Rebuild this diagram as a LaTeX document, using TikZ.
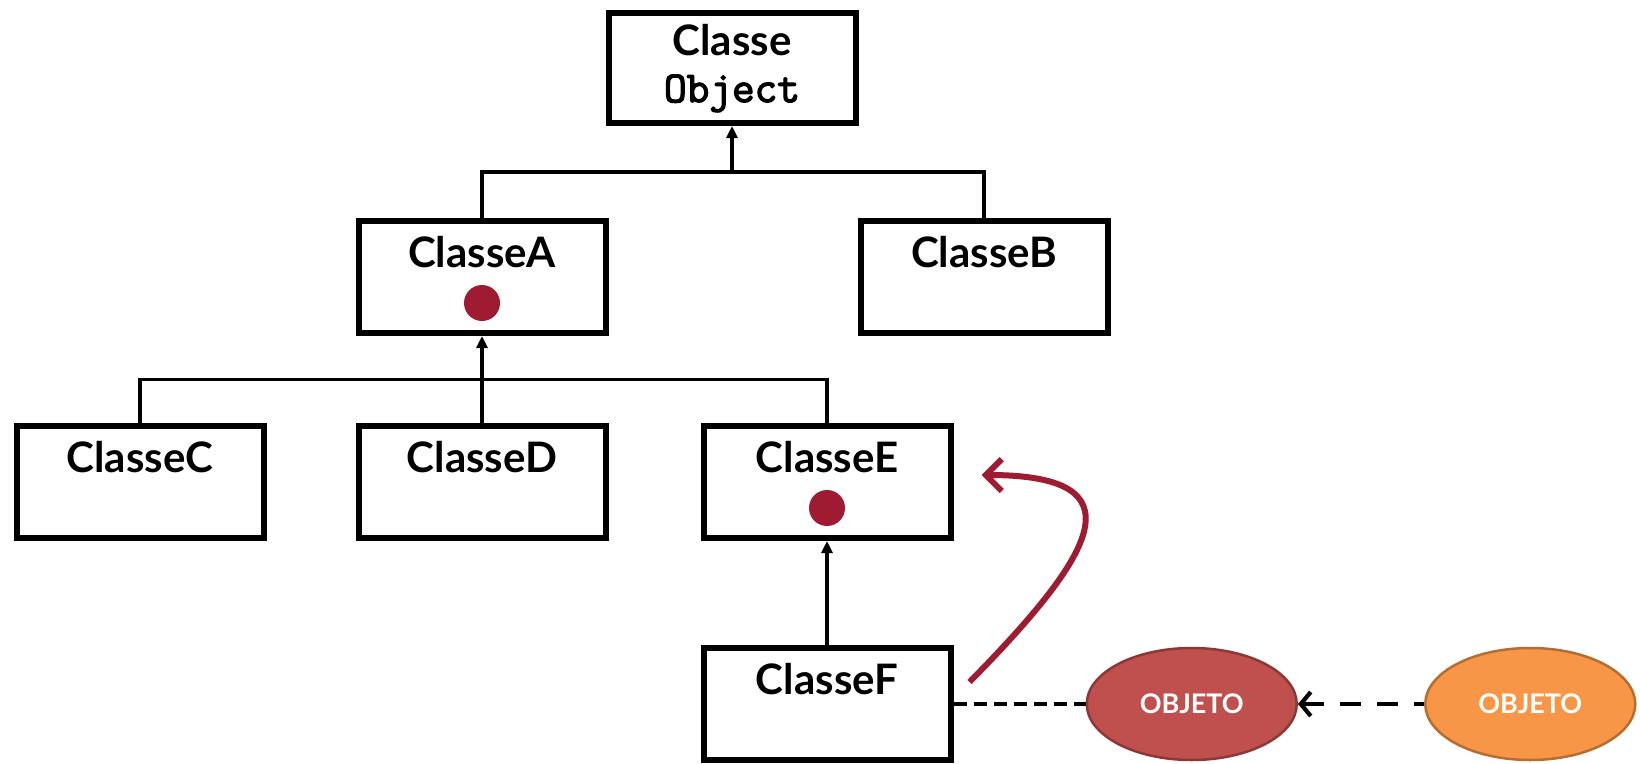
\documentclass[tikz,border=0pt]{standalone}
\usepackage{fontspec}
\setmainfont{Lato}
\setmonofont{Latin Modern Mono}[AutoFakeBold=3]
\usepackage{tikz}
\usetikzlibrary{arrows.meta,positioning,calc,shapes.geometric}
\definecolor{bordeaux}{HTML}{9E1B32}
\definecolor{objred}{HTML}{C0504D}
\definecolor{objredline}{HTML}{8C3836}
\definecolor{objorange}{HTML}{F79646}
\definecolor{objorangeline}{HTML}{B66D31}

\begin{document}
\begin{tikzpicture}[
  node distance=90pt and 90pt,
  classbox/.style={draw,line width=6pt,minimum width=247pt,
              inner xsep=0pt,inner ysep=0pt,text height=46pt,text depth=66pt,
              font=\fontsize{42}{44}\selectfont\bfseries},
  topbox/.style={draw,line width=6pt,minimum width=247pt,minimum height=110pt,
              align=center,font=\fontsize{42}{47}\selectfont\bfseries},
  dot/.style={circle,fill=bordeaux,minimum size=36pt,inner sep=0pt},
  objeto/.style={ellipse,line width=2.5pt,minimum width=210pt,minimum height=112pt,
              text=white,font=\fontsize{27}{29}\selectfont\bfseries},
  link/.style={line width=3.4pt},
  linkarr/.style={link,-{Triangle[length=12pt,width=11pt]}},
  dashlink/.style={line width=4.2pt,dash pattern=on 13pt off 7pt},
  backarr/.style={line width=4.2pt,dash pattern=on 21pt off 16pt,
              {Straight Barb[length=10pt,width=24pt]}-},
  curvarr/.style={bordeaux,line width=6pt,-{Straight Barb[length=16pt,width=32pt]}}
]
  \useasboundingbox (0,0) rectangle (1640pt,-763pt);

  \node[topbox](object) at (732pt,-68pt){Classe\\{\fontsize{44}{47}\selectfont\ttfamily\bfseries Object}};
  \node[classbox,below=92pt of object,xshift=-250pt](ca){ClasseA};
  \node[classbox,below=92pt of object,xshift=252pt](cb){ClasseB};
  \node[classbox,below=87pt of ca](cd){ClasseD};
  \node[classbox,left=89pt of cd](cc){ClasseC};
  \node[classbox,right=92pt of cd](ce){ClasseE};
  \node[classbox,below=104pt of ce](cf){ClasseF};
  \node[dot] (adot) at ($(ca.center)+(0,-26pt)$){};
  \node[dot] (edot) at ($(ce.center)+(0,-26pt)$){};

  \node[objeto,fill=objred,draw=objredline,right=132pt of cf](o1){OBJETO};
  \node[objeto,fill=objorange,draw=objorangeline,right=126pt of o1](o2){OBJETO};

  % heranca
  \coordinate (j1) at ($(object.south)!0.5!(object.south |- ca.north)$);
  \coordinate (j2) at ($(ca.south)!0.5!(cd.north)$);
  \draw[link](ca.north) |- (j1) -| (cb.north);
  \draw[linkarr](j1) -- (object.south);
  \draw[link](cc.north) |- (j2) -| (ce.north);
  \draw[linkarr](cd.north) -- (ca.south);
  \draw[linkarr](cf.north) -- (ce.south);

  % instancias
  \draw[dashlink](cf.east) -- (o1.west);
  \draw[backarr](o1.east) -- (o2.west);

  \coordinate (cstart) at ($(cf.north east)+(16pt,-37pt)$);
  \coordinate (cend) at ($(ce.east)+(28pt,7pt)$);
  \draw[curvarr](cstart) .. controls ($(cstart)+(128pt,130pt)$)
       and ($(cend)+(160pt,0)$) .. (cend);
\end{tikzpicture}
\end{document}
